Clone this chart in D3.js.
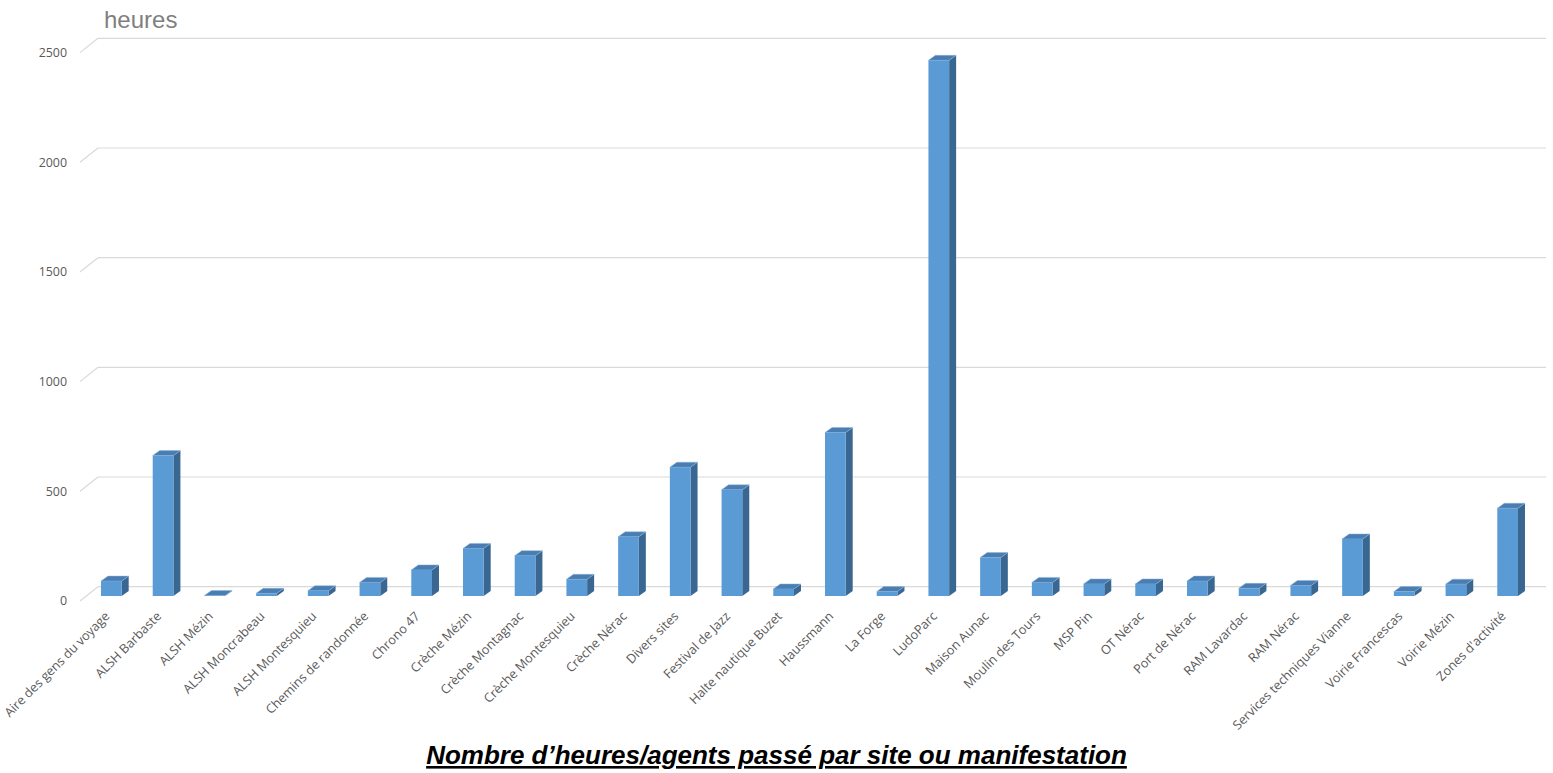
<!DOCTYPE html>
<html>
<head>
<meta charset="utf-8">
<script src="https://cdn.jsdelivr.net/npm/d3@7"></script>
<style>
  html, body { margin: 0; padding: 0; background: #ffffff; }
  svg { display: block; }
</style>
</head>
<body>
<svg id="chart" width="1553" height="773"></svg>
<script>
const categories = [
  "Aire des gens du voyage", "ALSH Barbaste", "ALSH Mézin", "ALSH Moncrabeau",
  "ALSH Montesquieu", "Chemins de randonnée", "Chrono 47", "Crèche Mézin",
  "Crèche Montagnac", "Crèche Montesquieu", "Crèche Nérac", "Divers sites",
  "Festival de Jazz", "Halte nautique Buzet", "Haussmann", "La Forge",
  "LudoParc", "Maison Aunac", "Moulin des Tours", "MSP Pin", "OT Nérac",
  "Port de Nérac", "RAM Lavardac", "RAM Nérac", "Services techniques Vianne",
  "Voirie Francescas", "Voirie Mézin", "Zones d'activité"
];
const heures = [
  68, 640, 2, 12, 24, 62, 119, 217, 184, 76, 270, 587, 484, 32, 745, 20,
  2442, 175, 62, 55, 55, 68, 35, 48, 260, 20, 54, 400
];
const yTicks = [0, 500, 1000, 1500, 2000, 2500];
const yAxisTitle = "heures";
const chartTitle = "Nombre d’heures/agents passé par site ou manifestation";

const svg = d3.select("#chart");

// back wall scales
const x = d3.scaleBand().domain(categories).range([98, 1546]).paddingInner(0).paddingOuter(0);
const y = d3.scaleLinear().domain([0, 2500]).range([586.7, 38.3]);

// oblique projection offsets
const wallDX = 18, wallDY = 14.3;   // front edge of floor vs back wall
const barShiftY = 9.3;              // bar front face vs back wall
const depthDX = 7, depthDY = 5;     // bar depth
const faceOffset = 3, faceW = 20.7;

// gridlines
const grid = svg.append("g");
yTicks.forEach(t => {
  const yy = y(t);
  grid.append("line")
    .attr("x1", x.range()[0]).attr("x2", x.range()[1])
    .attr("y1", yy).attr("y2", yy)
    .attr("stroke", "#d9d9d9").attr("stroke-width", 1.2);
  grid.append("line")
    .attr("x1", x.range()[0] - wallDX).attr("y1", yy + wallDY)
    .attr("x2", x.range()[0]).attr("y2", yy)
    .attr("stroke", "#d9d9d9").attr("stroke-width", 1.2);
});

// y labels
svg.append("g").selectAll("text").data(yTicks).join("text")
  .attr("x", 67)
  .attr("y", d => y(d) + wallDY)
  .attr("dy", "0.35em")
  .attr("text-anchor", "end")
  .attr("font-family", "'Open Sans', sans-serif")
  .attr("font-size", 12.4)
  .attr("fill", "#595959")
  .text(d => d);

// axis title
svg.append("text")
  .attr("x", 104).attr("y", 28.3)
  .attr("font-family", "'Liberation Sans', Arial, sans-serif")
  .attr("font-size", 24)
  .attr("fill", "#7f7f7f")
  .text(yAxisTitle);

// bars
const bars = svg.append("g").selectAll("g").data(categories).join("g");
bars.each(function(c, i) {
  const g = d3.select(this);
  const x0 = x(c) + faceOffset, x1 = x0 + faceW;
  const yb = y(0) + barShiftY;
  const yt = y(heures[i]) + barShiftY;
  // side
  g.append("polygon")
    .attr("points", [[x1, yt], [x1 + depthDX, yt - depthDY], [x1 + depthDX, yb - depthDY], [x1, yb]].join(" "))
    .attr("fill", "#3a6792");
  // top
  g.append("polygon")
    .attr("points", [[x0, yt], [x0 + depthDX, yt - depthDY], [x1 + depthDX, yt - depthDY], [x1, yt]].join(" "))
    .attr("fill", "#4a7db1")
    .attr("stroke", "#8db4dc").attr("stroke-width", 0.5);
  // front
  g.append("rect")
    .attr("x", x0).attr("y", yt)
    .attr("width", faceW).attr("height", Math.max(0, yb - yt))
    .attr("fill", "#5b9bd5");
});

// x labels
svg.append("g").selectAll("text").data(categories).join("text")
  .attr("transform", c => `translate(${x(c) + faceOffset + faceW / 2 - 1},${617}) rotate(-45)`)
  .attr("text-anchor", "end")
  .attr("font-family", "'Open Sans', sans-serif")
  .attr("font-size", 12.7)
  .attr("fill", "#595959")
  .text(c => c);

// chart title
svg.append("text")
  .attr("x", 776.5).attr("y", 764)
  .attr("text-anchor", "middle")
  .attr("font-family", "'Liberation Sans', Arial, sans-serif")
  .attr("font-size", 26)
  .attr("font-weight", "bold")
  .attr("font-style", "italic")
  .attr("text-decoration", "underline")
  .attr("fill", "#000000")
  .text(chartTitle);
</script>
</body>
</html>
